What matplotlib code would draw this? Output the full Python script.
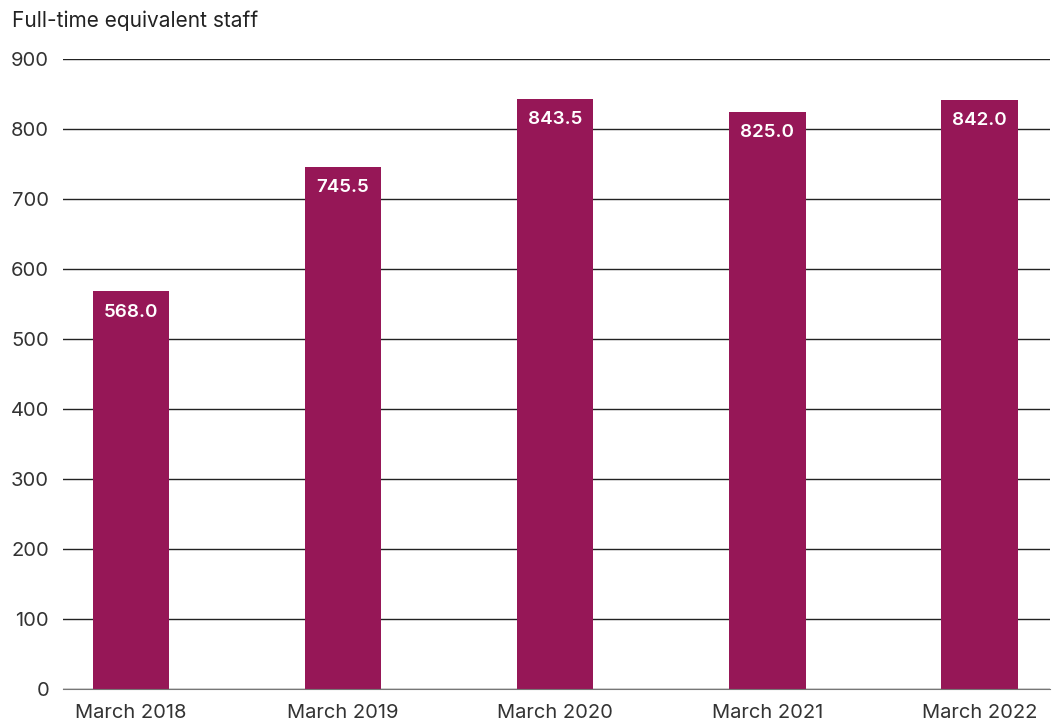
import matplotlib.pyplot as plt

# FTE staff by year
years = ['March 2018', 'March 2019', 'March 2020', 'March 2021', 'March 2022']
staff = [568.0, 745.5, 843.5, 825.0, 842.0]
yticks = [0, 100, 200, 300, 400, 500, 600, 700, 800, 900]

bar_color = '#961757'
text_color = '#333333'

plt.rcParams['font.family'] = ['Inter', 'DejaVu Sans']

fig = plt.figure(figsize=(10.56, 7.25), dpi=100)
ax = fig.add_axes([0.0597, 0.0497, 0.9343, 0.8689])

x = range(len(years))
ax.bar(x, staff, width=0.36, color=bar_color, zorder=3)

for xi, v in zip(x, staff):
    ax.annotate(f'{v:.1f}', (xi, v), xytext=(0, -15), textcoords='offset points',
                ha='center', va='center', color='white', fontsize=13.5, fontweight='semibold')

ax.set_ylim(0, 900)
ax.set_xlim(-0.32, 4.33)
ax.set_yticks(yticks)
ax.set_xticks(list(x))
ax.set_xticklabels(years)
ax.grid(axis='y', color='#222222', linewidth=1, zorder=0)
ax.tick_params(axis='both', length=0, labelsize=14.5, colors=text_color)
ax.tick_params(axis='x', pad=11)
ax.tick_params(axis='y', pad=10)
for s in ['top', 'right', 'left']:
    ax.spines[s].set_visible(False)
ax.spines['bottom'].set_color('#777777')
ax.spines['bottom'].set_zorder(4)

fig.text(0.011, 0.972, 'Full-time equivalent staff', fontsize=15, color='#222222',
         ha='left', va='center')

fig.savefig('out.png', dpi=100)
